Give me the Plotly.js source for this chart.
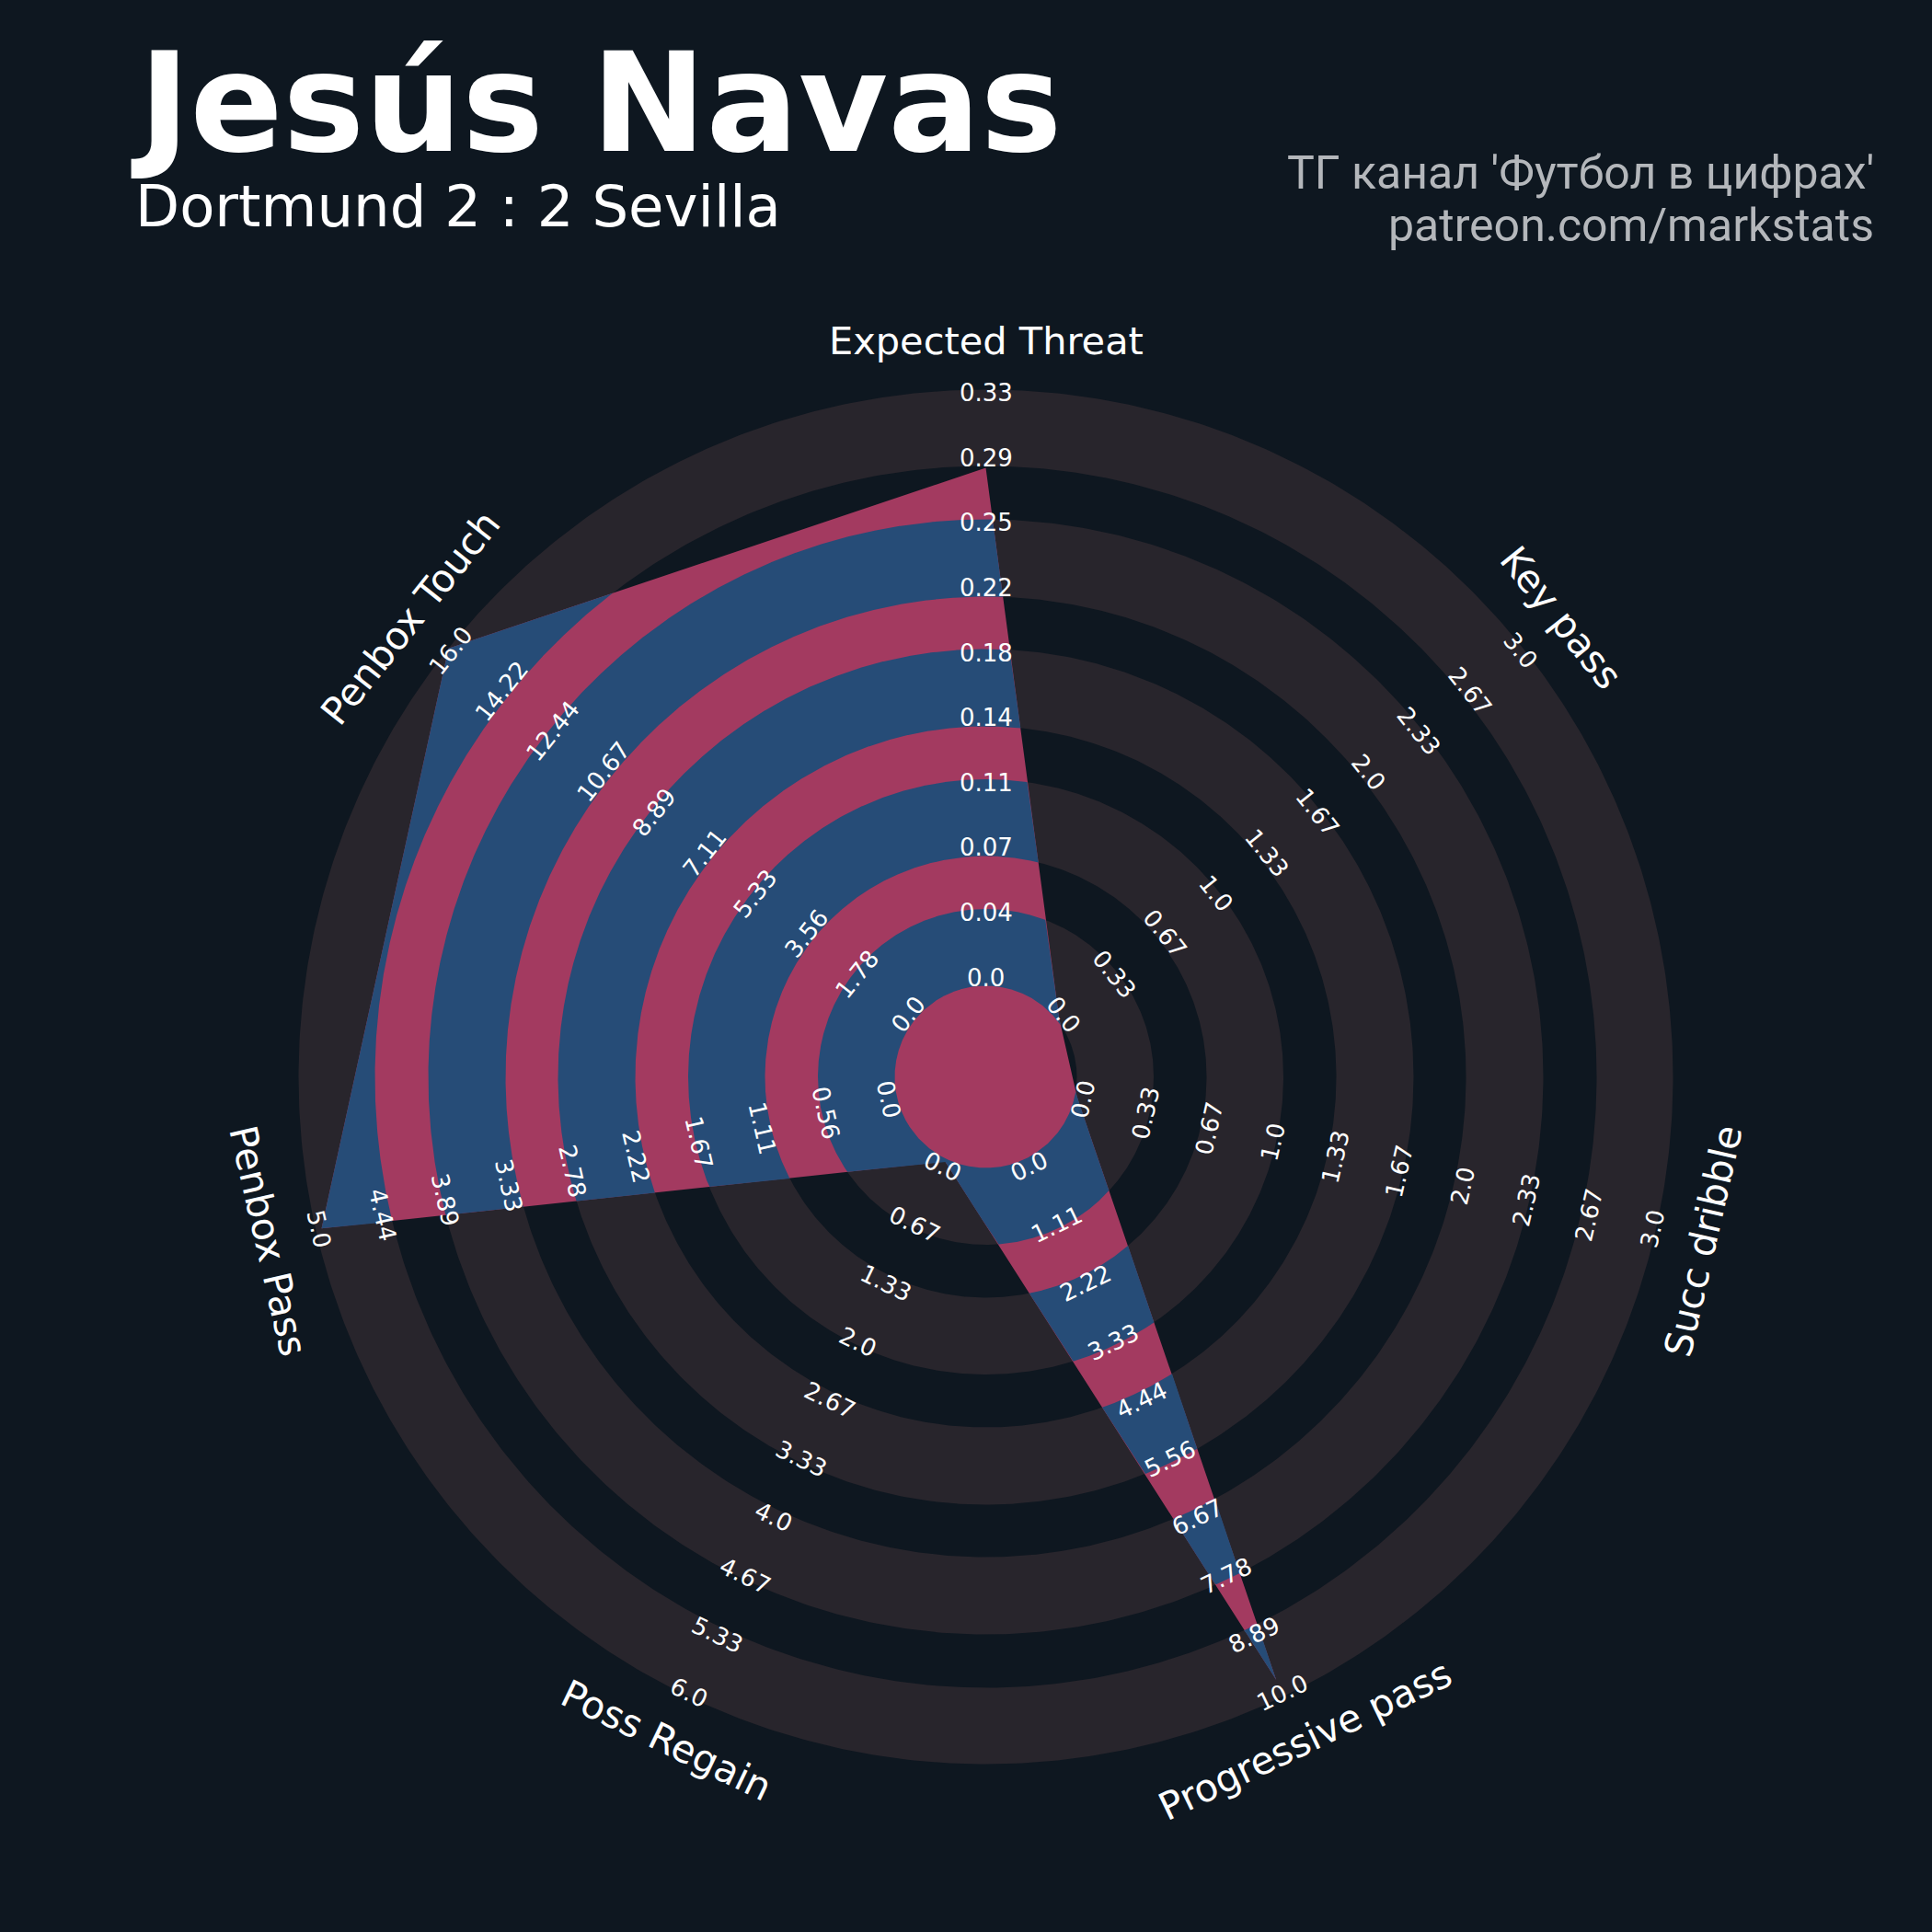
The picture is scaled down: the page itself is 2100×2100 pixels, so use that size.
<!DOCTYPE html>
<html><head><meta charset="utf-8">
<script src="https://cdn.plot.ly/plotly-3.0.1.min.js"></script>
<style>html,body{margin:0;padding:0;background:#0e1720;}</style>
</head><body><div id="chart" style="width:2100px;height:2100px;"></div>
<script>
// ---------------- data ----------------
const playerName = 'Jesús Navas';
const matchText = 'Dortmund 2 : 2 Sevilla';
const creditLines = ["ТГ канал 'Футбол в цифрах'", 'patreon.com/markstats'];
const params = ['Expected Threat', 'Key pass', 'Succ dribble', 'Progressive pass', 'Poss Regain', 'Penbox Pass', 'Penbox Touch'];
const lowRange = [0, 0, 0, 0, 0, 0, 0];
const highRange = [0.326, 3, 3, 10, 6, 5, 16];
const values = [0.283, 0, 0, 9.7, 0, 4.95, 16];
const rangeLabels = [
  ['0.0', '0.04', '0.07', '0.11', '0.14', '0.18', '0.22', '0.25', '0.29', '0.33'],
  ['0.0', '0.33', '0.67', '1.0', '1.33', '1.67', '2.0', '2.33', '2.67', '3.0'],
  ['0.0', '0.33', '0.67', '1.0', '1.33', '1.67', '2.0', '2.33', '2.67', '3.0'],
  ['0.0', '1.11', '2.22', '3.33', '4.44', '5.56', '6.67', '7.78', '8.89', '10.0'],
  ['0.0', '0.67', '1.33', '2.0', '2.67', '3.33', '4.0', '4.67', '5.33', '6.0'],
  ['0.0', '0.56', '1.11', '1.67', '2.22', '2.78', '3.33', '3.89', '4.44', '5.0'],
  ['0.0', '1.78', '3.56', '5.33', '7.11', '8.89', '10.67', '12.44', '14.22', '16.0']
];

// ---------------- style / geometry ----------------
const W = 2100, H = 2100;
const CX = 1071.5, CY = 1170.5;           // radar centre in page pixels
const R_MIN = 102, R_MAX = 747;            // radius of min / max value
const RING_IN = [99, 240, 381, 522, 664];  // grey ring inner radii
const RING_OUT = [182.5, 323.5, 465, 606, 747];
const LABEL_R0 = 108, LABEL_STEP = 70.6;   // range label radii
const PARAM_R = 800;
const BG = '#0e1720', GREY = '#28252c', PINK = '#a33a60', BLUE = '#264c77';
const FONT = 'DejaVu Sans';

const N = params.length;
const STEP = 360 / N;
const rad = d => d * Math.PI / 180;
const angleOf = i => 90 - i * STEP;

function scaledRadius(i) {
  let f = (values[i] - lowRange[i]) / (highRange[i] - lowRange[i]);
  f = Math.min(1, Math.max(0, f));
  return R_MIN + f * (R_MAX - R_MIN);
}
const verts = params.map((p, i) => {
  const r = scaledRadius(i), a = rad(angleOf(i));
  return [r * Math.cos(a), r * Math.sin(a)];
});
const cross = (u, v) => u[0] * v[1] - u[1] * v[0];
function polyRadius(th) {
  const phi = (((90 - th) % 360) + 360) % 360;
  const i = Math.floor(phi / STEP + 1e-9) % N;
  const P = verts[i], Q = verts[(i + 1) % N];
  const E = [Q[0] - P[0], Q[1] - P[1]];
  const d = [Math.cos(rad(th)), Math.sin(rad(th))];
  return cross(P, E) / cross(d, E);
}

// sample angles (fine grid + vertex angles)
let samples = [];
for (let k = 0; k < 3600; k++) samples.push(k * 0.1);
params.forEach((p, i) => samples.push((((angleOf(i)) % 360) + 360) % 360));
samples.sort((a, b) => a - b);
const rhos = samples.map(polyRadius);

const traces = [];
// full grey rings
RING_IN.forEach((a, j) => {
  const b = RING_OUT[j], xs = [], ys = [];
  for (let k = 0; k <= 720; k++) { const t = rad(k * 0.5); xs.push(b * Math.cos(t)); ys.push(b * Math.sin(t)); }
  for (let k = 720; k >= 0; k--) { const t = rad(k * 0.5); xs.push(a * Math.cos(t)); ys.push(a * Math.sin(t)); }
  traces.push({type: 'scatter', mode: 'lines', x: xs, y: ys, fill: 'toself', fillcolor: GREY,
    line: {width: 0, color: GREY}, hoverinfo: 'skip'});
});
// radar polygon
traces.push({type: 'scatter', mode: 'lines',
  x: verts.map(v => v[0]).concat([verts[0][0]]), y: verts.map(v => v[1]).concat([verts[0][1]]),
  fill: 'toself', fillcolor: PINK, line: {width: 0, color: PINK}, hoverinfo: 'skip'});
// rings clipped to the polygon
RING_IN.forEach((a, j) => {
  const b = RING_OUT[j], xs = [], ys = [];
  const M = samples.length;
  const pushRun = run => {
    run.forEach(idx => { const r = Math.min(b, Math.max(a, rhos[idx])), t = rad(samples[idx]); xs.push(r * Math.cos(t)); ys.push(r * Math.sin(t)); });
    for (let q = run.length - 1; q >= 0; q--) { const t = rad(samples[run[q]]); xs.push(a * Math.cos(t)); ys.push(a * Math.sin(t)); }
    xs.push(null); ys.push(null);
  };
  const start = rhos.findIndex(r => r <= a);
  if (start < 0) {
    const run = []; for (let k = 0; k < M; k++) run.push(k); run.push(0); pushRun(run);
  } else {
    let run = [];
    for (let k = 1; k <= M; k++) {
      const idx = (start + k) % M, prev = (start + k - 1) % M;
      if (rhos[idx] > a) { if (!run.length) run.push(prev); run.push(idx); }
      else if (run.length) { run.push(idx); pushRun(run); run = []; }
    }
    if (run.length) pushRun(run);
  }
  if (xs.length) traces.push({type: 'scatter', mode: 'lines', x: xs, y: ys, fill: 'toself', fillcolor: BLUE,
    line: {width: 0, color: BLUE}, connectgaps: false, hoverinfo: 'skip'});
});

// ---------------- annotations ----------------
const annotations = [];
function textAngle(i) {
  let r = -i * STEP;           // counter-clockwise rotation
  r = ((r % 360) + 540) % 360 - 180;
  if (r > 90) r -= 180; else if (r < -90) r += 180;
  return -r;                   // plotly: clockwise
}
params.forEach((p, i) => {
  const a = rad(angleOf(i)), ta = textAngle(i);
  annotations.push({x: PARAM_R * Math.cos(a), y: PARAM_R * Math.sin(a), xref: 'x', yref: 'y', text: p,
    showarrow: false, textangle: ta, xanchor: 'center', yanchor: 'middle',
    font: {family: FONT, size: 41.5, color: '#ffffff'}});
  rangeLabels[i].forEach((lab, k) => {
    const r = LABEL_R0 + k * LABEL_STEP;
    annotations.push({x: r * Math.cos(a), y: r * Math.sin(a), xref: 'x', yref: 'y', text: lab,
      showarrow: false, textangle: ta, xanchor: 'center', yanchor: 'middle',
      font: {family: FONT, size: 26, color: '#ffffff'}});
  });
});
annotations.push({xref: 'paper', yref: 'paper', x: 140 / W, y: 1 - 112 / H, text: playerName, showarrow: false,
  xanchor: 'left', yanchor: 'middle', font: {family: FONT, size: 149, color: '#ffffff', weight: 'bold'}});
annotations.push({xref: 'paper', yref: 'paper', x: 145 / W, y: 1 - 225 / H, text: matchText, showarrow: false,
  xanchor: 'left', yanchor: 'middle', font: {family: FONT, size: 62.5, color: '#ffffff'}});
annotations.push({xref: 'paper', yref: 'paper', x: 2039 / W, y: 1 - 188 / H, text: creditLines[0], showarrow: false,
  xanchor: 'right', yanchor: 'middle', font: {family: 'Roboto', size: 50, color: '#b4b7bb'}});
annotations.push({xref: 'paper', yref: 'paper', x: 2039 / W, y: 1 - 245 / H, text: creditLines[1], showarrow: false,
  xanchor: 'right', yanchor: 'middle', font: {family: 'Roboto', size: 50, color: '#b4b7bb'}});

const layout = {
  width: W, height: H, margin: {l: 0, r: 0, t: 0, b: 0, pad: 0},
  paper_bgcolor: BG, plot_bgcolor: BG, showlegend: false,
  xaxis: {range: [-CX, W - CX], visible: false, fixedrange: true},
  yaxis: {range: [-(H - CY), CY], visible: false, fixedrange: true},
  annotations: annotations
};
Plotly.newPlot('chart', traces, layout, {displayModeBar: false, staticPlot: true});
</script></body></html>
